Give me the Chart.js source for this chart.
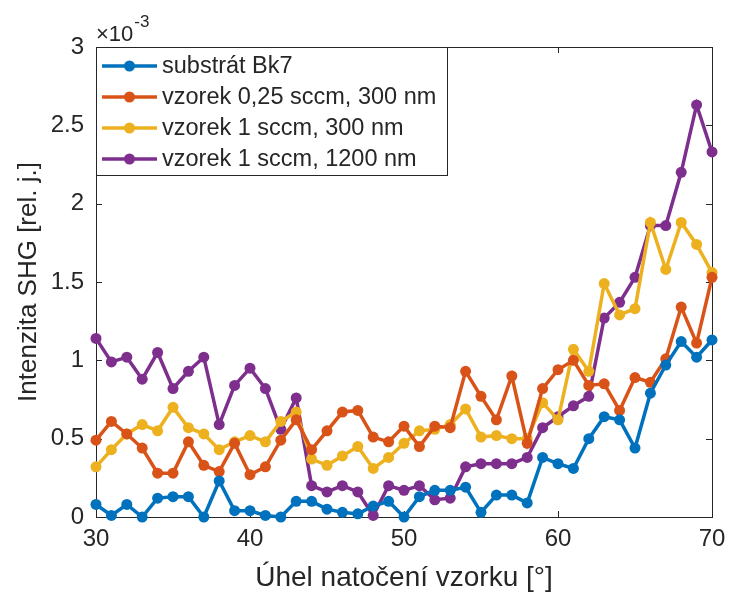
<!DOCTYPE html>
<html>
<head>
<meta charset="utf-8">
<script src="https://cdn.jsdelivr.net/npm/chart.js@4"></script>
<style>
  html, body { margin: 0; padding: 0; background: #fff; }
  #wrap { width: 729px; height: 597px; }
</style>
</head>
<body>
<div id="wrap"><canvas id="lineChart" width="729" height="597"></canvas></div>
<script>
// angles [deg]
const angles = [30,31,32,33,34,35,36,37,38,39,40,41,42,43,44,45,46,47,48,49,50,
                51,52,53,54,55,56,57,58,59,60,61,62,63,64,65,66,67,68,69,70];

// SHG intensity, in units of 1e-3
const substrat = [0.08,0.01,0.08,0.00,0.12,0.13,0.13,0.00,0.23,0.04,0.04,0.01,0.00,0.10,0.10,0.05,0.03,0.02,0.07,0.10,0.00,
                  0.13,0.17,0.17,0.19,0.03,0.14,0.14,0.09,0.38,0.34,0.31,0.50,0.64,0.62,0.44,0.79,0.97,1.12,1.02,1.13];
const vz025_300 = [0.49,0.61,0.53,0.44,0.28,0.28,0.48,0.33,0.29,0.47,0.27,0.32,0.49,0.62,0.43,0.55,0.67,0.68,0.51,0.48,0.58,
                   0.45,0.58,0.57,0.93,0.77,0.62,0.90,0.47,0.82,0.94,1.00,0.84,0.85,0.68,0.89,0.86,1.01,1.34,1.11,1.53];
const vz1_300 = [0.32,0.43,0.53,0.59,0.55,0.70,0.57,0.53,0.43,0.48,0.52,0.48,0.61,0.67,0.37,0.33,0.39,0.45,0.31,0.38,0.47,
                 0.55,0.56,0.59,0.69,0.51,0.52,0.50,0.50,0.73,0.62,1.07,0.93,1.49,1.29,1.33,1.88,1.58,1.88,1.74,1.56];
const vz1_1200 = [1.14,0.99,1.02,0.88,1.05,0.82,0.93,1.02,0.59,0.84,0.95,0.82,0.56,0.76,0.20,0.16,0.20,0.16,0.01,0.20,0.17,
                  0.20,0.11,0.12,0.32,0.34,0.34,0.34,0.38,0.57,0.64,0.71,0.77,1.27,1.37,1.53,1.86,1.86,2.20,2.63,2.33];

const seriesNames = ['substrát Bk7', 'vzorek 0,25 sccm, 300 nm', 'vzorek 1 sccm, 300 nm', 'vzorek 1 sccm, 1200 nm'];
const seriesColors = ['#0072BD', '#D95319', '#EDB120', '#7E2F8E'];
const xTicks = [30, 40, 50, 60, 70];
const yTicks = [0, 0.5, 1, 1.5, 2, 2.5, 3];

const FONT = 'Liberation Sans, Arial, Helvetica, sans-serif';
const INK = '#262626';

function mk(i, vals) {
  return {
    label: seriesNames[i],
    data: angles.map((a, k) => ({x: a, y: vals[k]})),
    borderColor: seriesColors[i],
    backgroundColor: seriesColors[i],
    borderWidth: 3.5,
    pointRadius: 5.5,
    pointHoverRadius: 5.5,
    pointBorderWidth: 0,
    tension: 0,
    clip: false
  };
}

// box, inward ticks, exponent and legend, drawn the matlab way
const matlabAxes = {
  id: 'matlabAxes',
  beforeDatasetsDraw(chart) {
    const {ctx, chartArea: a, scales: {x, y}} = chart;
    ctx.save();
    ctx.strokeStyle = INK;
    ctx.lineWidth = 1;
    ctx.strokeRect(a.left + 0.5, a.top + 0.5, a.right - a.left, a.bottom - a.top);
    ctx.beginPath();
    const tl = 6;
    xTicks.forEach(v => {
      const px = Math.round(x.getPixelForValue(v)) + 0.5;
      ctx.moveTo(px, a.bottom); ctx.lineTo(px, a.bottom - tl);
      ctx.moveTo(px, a.top); ctx.lineTo(px, a.top + tl);
    });
    yTicks.forEach(v => {
      const py = Math.round(y.getPixelForValue(v)) + 0.5;
      ctx.moveTo(a.left, py); ctx.lineTo(a.left + tl, py);
      ctx.moveTo(a.right, py); ctx.lineTo(a.right - tl, py);
    });
    ctx.stroke();
    // x10^-3
    ctx.fillStyle = INK;
    ctx.textBaseline = 'alphabetic';
    ctx.font = '22px ' + FONT;
    ctx.fillText('\u00d710', a.left, a.top - 6);
    const w = ctx.measureText('\u00d710').width;
    ctx.font = '17px ' + FONT;
    ctx.fillText('-3', a.left + w + 1, a.top - 20);
    ctx.restore();
  },
  afterDatasetsDraw(chart) {
    const {ctx, chartArea: a} = chart;
    const bx = a.left, by = a.top, bw = 351, bh = 128;
    ctx.save();
    ctx.fillStyle = '#fff';
    ctx.fillRect(bx, by, bw, bh);
    ctx.strokeStyle = INK;
    ctx.lineWidth = 1;
    ctx.strokeRect(bx + 0.5, by + 0.5, bw, bh);
    ctx.font = '23.5px ' + FONT;
    ctx.textBaseline = 'middle';
    chart.data.datasets.forEach((ds, i) => {
      const cy = by + 19 + i * 31;
      ctx.strokeStyle = ds.borderColor;
      ctx.lineWidth = 3.5;
      ctx.beginPath();
      ctx.moveTo(bx + 6, cy); ctx.lineTo(bx + 61, cy);
      ctx.stroke();
      ctx.fillStyle = ds.borderColor;
      ctx.beginPath();
      ctx.arc(bx + 33.5, cy, 5.5, 0, Math.PI * 2);
      ctx.fill();
      ctx.fillStyle = INK;
      ctx.fillText(ds.label, bx + 66, cy + 1);
    });
    ctx.restore();
  }
};

const ctxL = document.getElementById('lineChart').getContext('2d');
new Chart(ctxL, {
  type: 'line',
  data: {
    datasets: [mk(0, substrat), mk(1, vz025_300), mk(2, vz1_300), mk(3, vz1_1200)]
  },
  options: {
    responsive: false,
    animation: false,
    events: [],
    layout: { padding: { left: 0, right: 17, top: 47, bottom: 0 } },
    plugins: { legend: { display: false }, tooltip: { enabled: false } },
    scales: {
      x: {
        type: 'linear',
        min: 30, max: 70,
        afterFit: s => { s.height = 80; s.paddingLeft = 0; s.paddingRight = 0; },
        afterBuildTicks: s => { s.ticks = xTicks.map(v => ({value: v})); },
        grid: { display: false, drawTicks: false },
        border: { display: false },
        ticks: { color: INK, font: { family: FONT, size: 24 }, padding: 8, maxRotation: 0 },
        title: { display: true, text: 'Úhel natočení vzorku [°]', color: INK,
                 font: { family: FONT, size: 28 }, padding: { top: 0, bottom: 2 } }
      },
      y: {
        min: 0, max: 3,
        afterFit: s => { s.width = 96; s.paddingTop = 0; s.paddingBottom = 0; },
        afterBuildTicks: s => { s.ticks = yTicks.map(v => ({value: v})); },
        grid: { display: false, drawTicks: false },
        border: { display: false },
        ticks: { color: INK, font: { family: FONT, size: 24 }, padding: 12,
                 callback: v => String(v) },
        title: { display: true, text: 'Intenzita SHG [rel. j.]', color: INK,
                 font: { family: FONT, size: 26 }, padding: { top: 13, bottom: 0 } }
      }
    }
  },
  plugins: [matlabAxes]
});
</script>
</body>
</html>
